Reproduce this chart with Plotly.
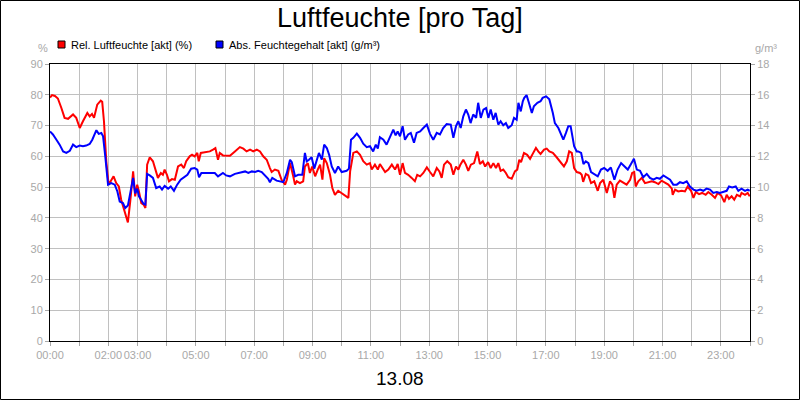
import plotly.graph_objects as go

# ---- data ----
rel_hours = [0, 0.07, 0.17, 0.27, 0.39, 0.50, 0.62, 0.79, 0.90, 1.02, 1.13, 1.28, 1.36, 1.44, 1.51, 1.62,
             1.74, 1.79, 1.85, 1.93, 2.01, 2.10, 2.18, 2.27, 2.36, 2.44, 2.56, 2.67, 2.75, 2.85, 2.92, 2.99,
             3.05, 3.13, 3.21, 3.27, 3.33, 3.42, 3.53, 3.64, 3.70, 3.80, 3.87, 3.93, 4.01, 4.08, 4.18, 4.28,
             4.39, 4.50, 4.59, 4.67, 4.79, 4.87, 4.96, 5.05, 5.10, 5.17, 5.36, 5.48, 5.59, 5.67, 5.76, 5.82,
             5.93, 6.08, 6.17, 6.34, 6.51, 6.63, 6.74, 6.86, 6.97, 7.09, 7.20, 7.31, 7.43, 7.54, 7.60, 7.71,
             7.83, 7.94, 8.06, 8.12, 8.23, 8.34, 8.40, 8.46, 8.57, 8.68, 8.74, 8.84, 8.91, 8.99, 9.09, 9.18,
             9.26, 9.34, 9.40, 9.49, 9.60, 9.68, 9.77, 9.88, 10.00, 10.11, 10.23, 10.29, 10.40, 10.52, 10.63,
             10.74, 10.86, 10.97, 11.03, 11.14, 11.24, 11.31, 11.39, 11.49, 11.60, 11.72, 11.83, 11.92, 12.00,
             12.09, 12.17, 12.28, 12.40, 12.51, 12.59, 12.69, 12.80, 12.92, 13.03, 13.14, 13.26, 13.35, 13.43,
             13.51, 13.62, 13.74, 13.83, 13.92, 14.00, 14.06, 14.17, 14.26, 14.34, 14.43, 14.54, 14.65, 14.74,
             14.84, 14.92, 15.02, 15.11, 15.20, 15.29, 15.37, 15.45, 15.54, 15.63, 15.71, 15.83, 15.94, 16.02,
             16.09, 16.15, 16.25, 16.36, 16.46, 16.55, 16.66, 16.74, 16.82, 16.94, 17.03, 17.12, 17.24, 17.37,
             17.49, 17.62, 17.72, 17.80, 17.89, 17.97, 18.06, 18.17, 18.23, 18.28, 18.37, 18.46, 18.55, 18.66,
             18.78, 18.86, 18.97, 19.09, 19.20, 19.28, 19.35, 19.43, 19.54, 19.66, 19.77, 19.89, 19.96, 20.03,
             20.08, 20.17, 20.29, 20.40, 20.51, 20.63, 20.74, 20.86, 20.97, 21.09, 21.20, 21.32, 21.35, 21.43,
             21.54, 21.66, 21.77, 21.86, 21.98, 22.06, 22.14, 22.25, 22.36, 22.48, 22.57, 22.69, 22.80, 22.89,
             23.01, 23.12, 23.20, 23.28, 23.37, 23.46, 23.55, 23.66, 23.71, 23.83, 23.92, 23.99]
rel_humidity = [79.1, 79.9, 79.6, 78.8, 75.7, 72.5, 72.2, 73.6, 72.5, 69.2, 71.4, 74.1, 73.0, 73.8, 72.5, 76.8,
                78.1, 77.7, 71.4, 58.4, 50.8, 52.4, 53.5, 51.3, 50.2, 45.9, 41.6, 38.5, 45.3, 55.1, 47.0, 50.8,
                48.6, 44.8, 44.3, 43.2, 57.3, 59.7, 58.4, 55.1, 53.0, 54.6, 54.0, 55.7, 54.0, 51.9, 52.6, 52.4,
                56.7, 57.3, 56.2, 58.4, 60.0, 60.5, 60.0, 61.1, 58.4, 61.1, 61.4, 61.6, 62.2, 62.7, 58.9, 61.1,
                60.3, 60.3, 60.2, 61.6, 63.0, 62.5, 61.6, 62.2, 61.6, 62.2, 61.6, 60.0, 58.9, 56.2, 54.9, 55.7,
                55.3, 52.4, 50.8, 52.4, 57.8, 53.5, 50.8, 51.9, 51.3, 51.9, 56.7, 57.8, 54.6, 56.7, 53.5, 55.7,
                57.3, 52.4, 59.4, 57.8, 54.0, 49.7, 47.5, 48.8, 48.1, 47.3, 46.5, 55.1, 61.1, 61.6, 60.5,
                58.4, 57.3, 57.8, 55.7, 57.3, 55.7, 57.5, 56.2, 54.9, 55.7, 57.3, 55.7, 57.5, 54.0,
                57.8, 54.6, 54.0, 53.0, 51.9, 54.0, 53.5, 54.6, 56.4, 54.9, 53.5, 56.2, 55.1, 53.0,
                57.3, 58.4, 57.3, 54.0, 56.7, 55.7, 57.1, 58.9, 57.3, 55.3, 57.3, 57.8, 61.6, 57.5,
                58.4, 56.7, 58.1, 56.2, 57.8, 56.2, 57.8, 55.3, 55.7, 54.6, 53.2, 52.7, 55.1, 55.7,
                58.9, 58.1, 61.1, 60.5, 59.2, 60.8, 62.7, 61.6, 60.8, 62.2, 62.5, 61.6, 61.1, 59.7,
                58.1, 56.7, 58.4, 61.6, 61.1, 56.2, 54.9, 54.6, 54.0, 51.7, 54.3, 53.8, 51.3, 51.9,
                48.8, 51.3, 52.4, 48.1, 51.9, 50.8, 46.5, 50.8, 52.1, 51.3, 50.8, 52.4, 54.6, 54.9,
                50.2, 51.9, 53.0, 51.3, 51.6, 51.9, 51.6, 51.0, 52.1, 51.3, 50.8, 49.5, 47.5, 49.2,
                48.6, 48.8, 48.6, 50.2, 48.8, 46.5, 48.4, 47.7, 48.1, 47.5, 48.4, 47.5, 46.5, 48.1,
                47.3, 45.1, 47.5, 46.2, 47.0, 45.9, 47.5, 47.0, 48.1, 47.5, 48.1, 47.0]

abs_hours = [0, 0.10, 0.22, 0.33, 0.45, 0.56, 0.68, 0.79, 0.90, 1.02, 1.13, 1.24, 1.36, 1.45, 1.59, 1.67,
             1.76, 1.82, 1.90, 1.99, 2.10, 2.22, 2.31, 2.39, 2.50, 2.58, 2.67, 2.77, 2.85, 2.92, 2.99, 3.05,
             3.13, 3.21, 3.27, 3.33, 3.42, 3.53, 3.64, 3.76, 3.84, 3.93, 4.05, 4.14, 4.25, 4.36, 4.48, 4.59,
             4.71, 4.84, 4.96, 5.05, 5.11, 5.19, 5.36, 5.53, 5.65, 5.76, 5.93, 6.04, 6.17, 6.34, 6.51, 6.69,
             6.80, 6.92, 7.03, 7.14, 7.26, 7.37, 7.48, 7.54, 7.62, 7.77, 7.89, 8.00, 8.12, 8.23, 8.29, 8.40,
             8.51, 8.65, 8.74, 8.80, 8.88, 8.97, 9.06, 9.14, 9.22, 9.32, 9.40, 9.49, 9.57, 9.66, 9.77, 9.88,
             10.00, 10.17, 10.25, 10.32, 10.40, 10.52, 10.63, 10.74, 10.86, 10.97, 11.08, 11.17, 11.24, 11.31,
             11.43, 11.54, 11.66, 11.77, 11.85, 11.92, 12.00, 12.09, 12.17, 12.28, 12.37, 12.48, 12.57, 12.69,
             12.80, 12.92, 13.03, 13.14, 13.26, 13.37, 13.48, 13.60, 13.74, 13.83, 13.92, 14.00, 14.08, 14.17,
             14.26, 14.34, 14.42, 14.51, 14.61, 14.68, 14.77, 14.86, 14.95, 15.03, 15.11, 15.20, 15.28, 15.37,
             15.45, 15.54, 15.63, 15.71, 15.83, 15.91, 16.00, 16.06, 16.14, 16.21, 16.26, 16.34, 16.42, 16.52,
             16.59, 16.71, 16.82, 16.89, 17.01, 17.12, 17.24, 17.31, 17.43, 17.51, 17.60, 17.69, 17.77, 17.85,
             17.92, 17.97, 18.06, 18.11, 18.21, 18.29, 18.37, 18.46, 18.55, 18.66, 18.78, 18.89, 19.00, 19.12,
             19.23, 19.35, 19.46, 19.58, 19.69, 19.81, 19.92, 20.02, 20.12, 20.23, 20.34, 20.46, 20.57, 20.69,
             20.80, 20.91, 21.03, 21.14, 21.26, 21.37, 21.49, 21.60, 21.71, 21.83, 21.94, 22.06, 22.17, 22.29,
             22.40, 22.51, 22.63, 22.74, 22.86, 22.97, 23.09, 23.20, 23.28, 23.39, 23.51, 23.60, 23.71, 23.83,
             23.92, 23.99]
abs_humidity = [13.62, 13.42, 13.08, 12.76, 12.32, 12.22, 12.36, 12.76, 12.60, 12.70, 12.66, 12.70, 12.80,
                13.08, 13.70, 13.46, 13.52, 13.30, 11.90, 10.16, 10.26, 10.16, 9.72, 9.06, 8.96, 8.64, 8.80,
                9.72, 10.60, 9.60, 9.90, 9.40, 9.18, 8.90, 8.86, 10.86, 10.76, 10.60, 9.94, 10.04, 9.84, 10.08,
                9.90, 10.04, 9.76, 10.16, 10.48, 10.64, 10.80, 11.20, 11.24, 11.14, 10.64, 10.92, 10.92, 10.88,
                10.92, 10.70, 10.92, 10.76, 10.70, 10.86, 10.92, 11.02, 10.92, 11.02, 10.98, 11.06, 10.98,
                10.76, 10.54, 10.32, 10.60, 10.42, 10.38, 10.32, 10.92, 11.78, 11.62, 10.70, 10.80, 10.80,
                12.22, 11.68, 11.78, 11.94, 11.20, 11.78, 12.22, 11.78, 12.76, 12.54, 12.10, 11.34, 10.92,
                11.34, 10.98, 11.06, 11.20, 13.08, 13.20, 13.48, 13.20, 12.82, 12.60, 12.66, 12.32, 12.76,
                12.50, 13.24, 13.08, 12.76, 13.30, 13.74, 13.36, 13.62, 13.30, 13.96, 13.08, 13.42, 13.52,
                12.88, 13.52, 13.62, 13.84, 14.06, 13.46, 13.08, 13.52, 13.42, 13.84, 14.10, 14.06, 13.20,
                13.96, 14.28, 13.84, 14.60, 15.04, 14.72, 14.16, 14.72, 14.50, 15.48, 14.50, 15.04, 15.14,
                14.50, 15.04, 14.38, 14.82, 14.06, 14.28, 14.02, 14.16, 13.84, 14.02, 14.50, 14.38, 15.48,
                14.92, 15.58, 15.80, 15.98, 15.48, 14.82, 15.26, 15.48, 15.58, 15.80, 15.90, 15.70, 14.82,
                14.16, 13.84, 13.52, 13.08, 13.52, 13.96, 13.96, 13.20, 12.66, 12.32, 12.32, 12.22, 11.50,
                11.68, 11.56, 10.98, 10.86, 10.70, 11.14, 11.24, 11.06, 11.28, 10.48, 11.14, 11.56, 11.34,
                11.14, 11.50, 11.84, 11.14, 11.06, 10.64, 10.86, 10.60, 10.48, 10.60, 10.54, 10.76, 10.60,
                10.48, 10.16, 10.16, 10.32, 10.26, 10.38, 10.04, 9.84, 9.76, 9.84, 9.76, 9.90, 9.84, 9.62,
                9.68, 9.62, 9.68, 9.76, 10.04, 9.98, 10.04, 9.76, 9.90, 9.76, 9.84, 9.76]

hour_ticks = list(range(0, 25))
hour_labels = {0: "00:00", 2: "02:00", 3: "03:00", 5: "05:00", 7: "07:00", 9: "09:00", 11: "11:00",
               13: "13:00", 15: "15:00", 17: "17:00", 19: "19:00", 21: "21:00", 23: "23:00"}
left_ticks = list(range(0, 91, 10))
right_ticks = list(range(0, 19, 2))

series_names = ["Rel. Luftfeuchte [akt] (%)", "Abs. Feuchtegehalt [akt] (g/m³)"]
series_colors = ["#FF0000", "#0000FF"]

FONT = "Liberation Sans, Arial, sans-serif"
GRAY = "#A8A8A8"
GRID = "#C0C0C0"

fig = go.Figure()
fig.add_trace(go.Scatter(x=rel_hours, y=rel_humidity, mode="lines", name=series_names[0],
                         line=dict(color=series_colors[0], width=2), yaxis="y"))
fig.add_trace(go.Scatter(x=abs_hours, y=abs_humidity, mode="lines", name=series_names[1],
                         line=dict(color=series_colors[1], width=2), yaxis="y2"))

axis_common = dict(showline=True, linecolor="black", linewidth=1, ticks="outside", ticklen=4,
                   tickcolor=GRAY, tickfont=dict(family=FONT, size=11, color=GRAY), zeroline=False,
                   automargin=False)

PL, PR, PT, PB = 50, 50, 64, 59
PW, PH = 800 - PL - PR, 400 - PT - PB


def px(x):
    return (x - PL) / PW


def py(y):
    return (400 - PB - y) / PH


fig.update_layout(
    width=800, height=400,
    margin=dict(l=PL, r=PR, t=PT, b=PB, autoexpand=False),
    paper_bgcolor="white", plot_bgcolor="white",
    showlegend=False,
    font=dict(family=FONT),
    xaxis=dict(range=[0, 24], tickvals=hour_ticks, tickangle=0,
               ticktext=[hour_labels.get(h, "") for h in hour_ticks],
               showgrid=True, gridcolor=GRID, gridwidth=1, mirror=True, **axis_common),
    yaxis=dict(range=[0, 90], tickvals=left_ticks, showgrid=True, gridcolor=GRID, gridwidth=1,
               mirror=False, **axis_common),
    yaxis2=dict(range=[0, 18], tickvals=right_ticks, overlaying="y", side="right", showgrid=False,
                **axis_common),
)

# title
fig.add_annotation(text="Luftfeuchte [pro Tag]", xref="paper", yref="paper", x=0.5, y=py(18),
                   xanchor="center", yanchor="middle", showarrow=False,
                   font=dict(family=FONT, size=27, color="black"))

# outer image frame
fig.add_shape(type="rect", xref="paper", yref="paper", x0=px(0.5), x1=px(799.5),
              y0=py(399.5), y1=py(0.5), line=dict(color="black", width=1))

# legend (squares + labels)
legend_x = [58, 216]
for i, (name, col) in enumerate(zip(series_names, series_colors)):
    fig.add_shape(type="rect", xref="paper", yref="paper",
                  x0=px(legend_x[i]), x1=px(legend_x[i] + 7), y0=py(48), y1=py(41),
                  fillcolor=col, line=dict(color="black", width=1))
    fig.add_annotation(text=name, xref="paper", yref="paper", x=px(legend_x[i] + 11), y=py(44.5),
                       xanchor="left", yanchor="middle", showarrow=False,
                       font=dict(family=FONT, size=11, color="black"))

# axis unit labels
fig.add_annotation(text="%", xref="paper", yref="paper", x=px(43), y=py(48),
                   xanchor="center", yanchor="middle", showarrow=False,
                   font=dict(family=FONT, size=11, color=GRAY))
fig.add_annotation(text="g/m³", xref="paper", yref="paper", x=px(766), y=py(48),
                   xanchor="center", yanchor="middle", showarrow=False,
                   font=dict(family=FONT, size=11, color=GRAY))

# date label
fig.add_annotation(text="13.08", xref="paper", yref="paper", x=0.5, y=py(378),
                   xanchor="center", yanchor="middle", showarrow=False,
                   font=dict(family=FONT, size=19, color="black"))

fig.write_html("out.html", config={"displayModeBar": False},
               post_script="document.body.style.margin='0px';")
